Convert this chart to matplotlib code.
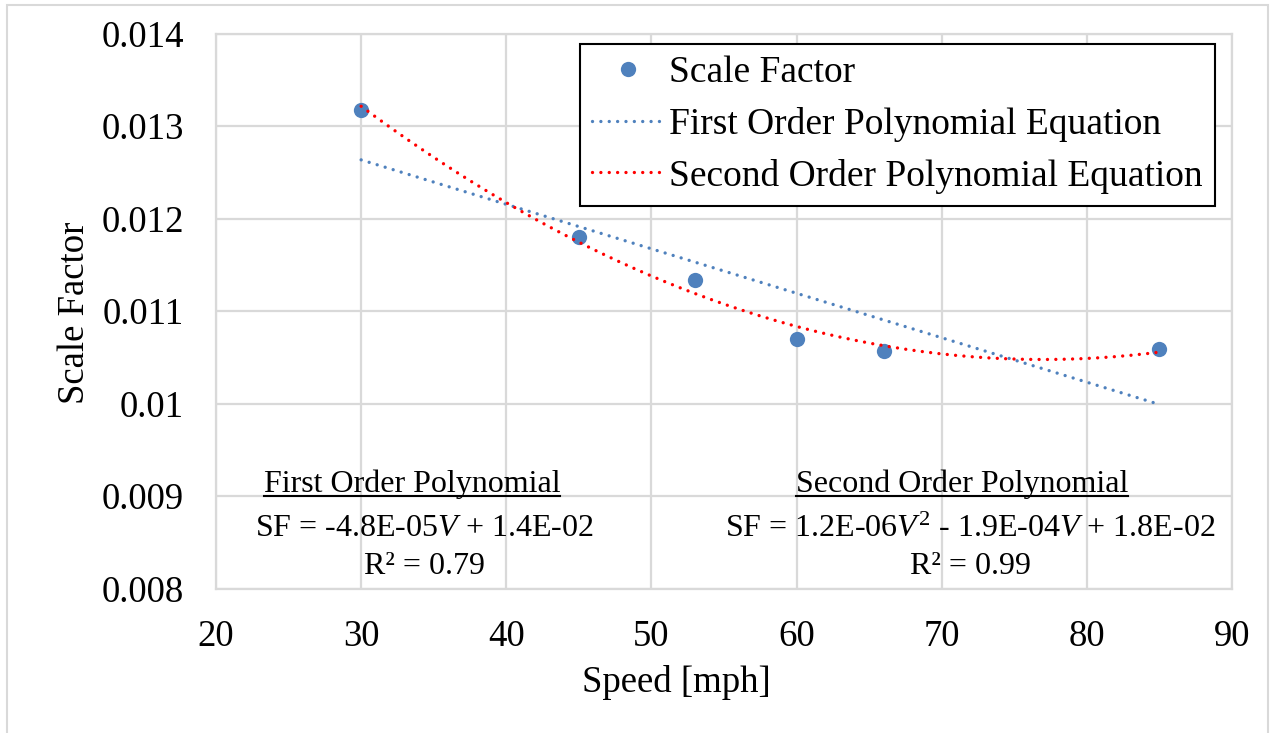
import numpy as np
import matplotlib.pyplot as plt
from matplotlib.lines import Line2D
from matplotlib.patches import Rectangle

plt.rcParams["font.family"] = "Liberation Serif"
plt.rcParams["mathtext.fontset"] = "custom"
plt.rcParams["mathtext.rm"] = "Liberation Serif"
plt.rcParams["mathtext.it"] = "Liberation Serif:italic"

speed = np.array([30, 45, 53, 60, 66, 85])
scale_factor = np.array([0.01317, 0.01180, 0.01133, 0.01070, 0.01057, 0.01059])

x_ticks = [20, 30, 40, 50, 60, 70, 80, 90]
y_ticks = [0.008, 0.009, 0.010, 0.011, 0.012, 0.013, 0.014]
y_labels = ["0.008", "0.009", "0.01", "0.011", "0.012", "0.013", "0.014"]

# trendlines fitted to the measured points
p1 = np.polyfit(speed, scale_factor, 1)
p2 = np.polyfit(speed, scale_factor, 2)
vv = np.linspace(speed.min(), speed.max(), 200)

W, H = 1271, 733
fig = plt.figure(figsize=(W / 100, H / 100), dpi=100)
ax = fig.add_axes([216 / W, 1 - 588.5 / H, 1016 / W, 555 / H])

grid_c = "#d9d9d9"
ax.set_xlim(20, 90)
ax.set_ylim(0.008, 0.014)
ax.set_xticks(x_ticks)
ax.set_yticks(y_ticks)
ax.set_yticklabels(y_labels)
ax.grid(True, color=grid_c, lw=1.6)
ax.set_axisbelow(True)
for s in ax.spines.values():
    s.set_color(grid_c)
    s.set_linewidth(1.6)
ax.tick_params(length=0, labelsize=26.5)
ax.tick_params(axis="y", pad=23)
ax.tick_params(axis="x", pad=22)

dots = (0, (0.01, 2.5))
ax.plot(speed, scale_factor, "o", color="#4f81bd", ms=11, mec="none",
        label="Scale Factor", zorder=3)
ax.plot(vv, np.polyval(p1, vv), color="#4f81bd", lw=2.4, ls=dots,
        dash_capstyle="round", label="First Order Polynomial Equation", zorder=4)
ax.plot(vv, np.polyval(p2, vv), color="#ff0000", lw=2.4, ls=dots,
        dash_capstyle="round", label="Second Order Polynomial Equation", zorder=4)

leg = ax.legend(loc="upper right", bbox_to_anchor=(1215 / W, 1 - 44 / H),
                bbox_transform=fig.transFigure, fontsize=27,
                frameon=True, fancybox=False, framealpha=1, edgecolor="black",
                handlelength=1.9, handletextpad=0.16, labelspacing=0.44,
                borderpad=0.32, borderaxespad=0)
leg.get_frame().set_linewidth(1.5)

fig.text(676 / W, 1 - 683 / H, "Speed [mph]", fontsize=26.5,
         ha="center", va="center")
fig.text(75 / W, 1 - 313 / H, "Scale Factor", fontsize=26.5, rotation=90,
         ha="center", va="center")

# fit equations written under each curve
fs = 23
t1 = fig.text(412 / W, 1 - 484 / H, "First Order Polynomial", fontsize=fs,
              ha="center", va="center")
fig.text(424 / W, 1 - 529 / H, r"SF = -4.8E-05$\mathit{V}$ + 1.4E-02",
         fontsize=fs, ha="center", va="center")
fig.text(424 / W, 1 - 566 / H, "R² = 0.79", fontsize=fs,
         ha="center", va="center")
t2 = fig.text(962 / W, 1 - 484 / H, "Second Order Polynomial", fontsize=fs,
              ha="center", va="center")
fig.text(970 / W, 1 - 529 / H,
         r"SF = 1.2E-06$\mathit{V}^{2}$ - 1.9E-04$\mathit{V}$ + 1.8E-02",
         fontsize=fs, ha="center", va="center")
fig.text(970 / W, 1 - 566 / H, "R² = 0.99", fontsize=fs,
         ha="center", va="center")

# underline the two headings
fig.canvas.draw()
r = fig.canvas.get_renderer()
inv = fig.transFigure.inverted()
for t in (t1, t2):
    bb = t.get_window_extent(r)
    (x0, y0), (x1, _) = inv.transform([[bb.x0, bb.y0], [bb.x1, bb.y1]])
    fig.add_artist(Line2D([x0, x1], [y0 + 0.004, y0 + 0.004], color="black",
                          lw=1.5, transform=fig.transFigure))

# outer chart border, open at the bottom
fig.add_artist(Rectangle((7 / W, -0.05), 1261 / W, 1.05 - 5 / H, fill=False,
                         edgecolor=grid_c, lw=1.5, transform=fig.transFigure))

fig.savefig("out.png", dpi=100)
